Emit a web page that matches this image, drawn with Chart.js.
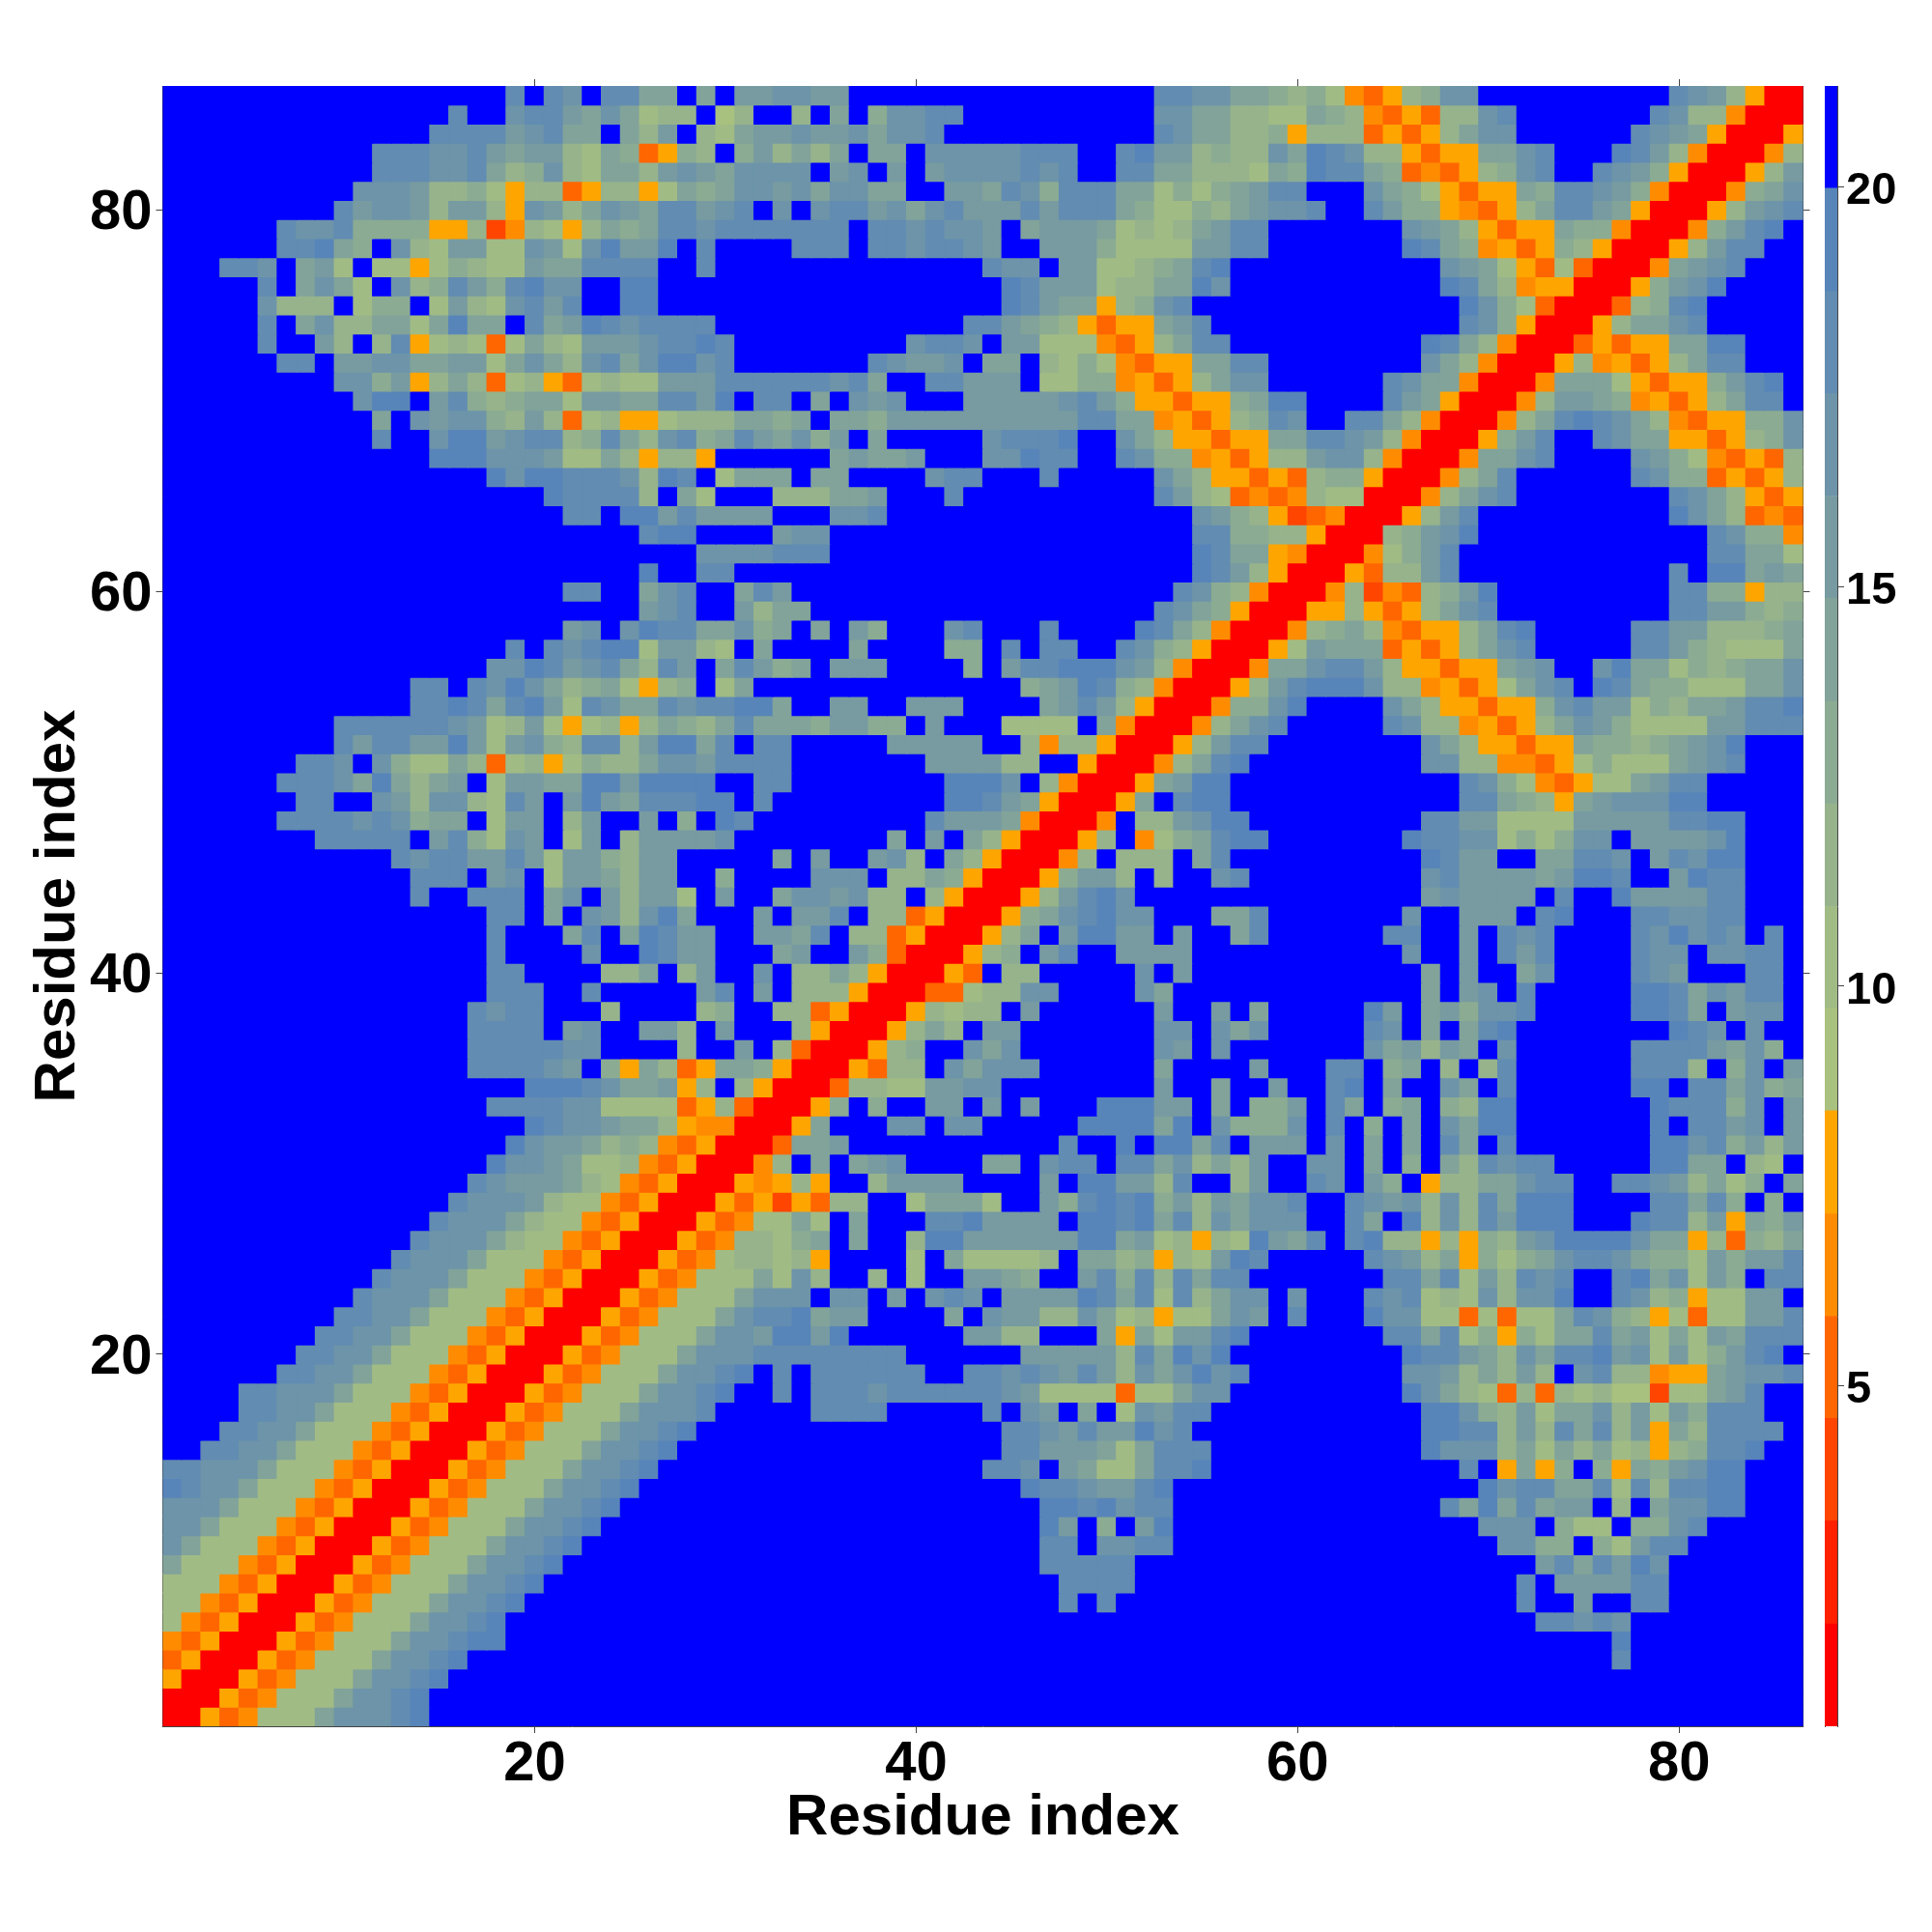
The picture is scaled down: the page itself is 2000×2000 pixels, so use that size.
<!DOCTYPE html>
<html>
<head>
<meta charset="utf-8">
<title>Residue map</title>
<script src="https://cdn.jsdelivr.net/npm/chart.js@4"></script>
<style>
    body { margin: 0; background: #fff; }
    #mapCanvas { position: absolute; left: 0; top: 0; }
    #barCanvas { position: absolute; left: 1880px; top: 0; }
</style>
</head>
<body>
<canvas id="mapCanvas" width="2000" height="2000"></canvas>
<canvas id="barCanvas" width="120" height="2000"></canvas>
<script>
// one letter per cell, level index in hex; first row is residue 86, groups of ten columns
const mapRows = [
'ffffffffff ffffffffdf dcfddaafaf bbccbbffff ffffffffff ffddccaa98 9743589ccf fffffffffd cb8500',
'ffffffffff fffffdffcd dbaca788f6 8ff8faf9cc ddffffffff ffccaa8877 a98435388c dfffffffdc 884000',
'ffffffffff ffffddddbc daafa8bf87 abbcbbcacc dfffffffff ffdcaa8895 88835358ac cffffffdcb a50005',
'ffffffffff fdddccdbab b87a93598f 9b8a8afaaf cccccdddff debb8988ca edc885355a acdfffedb8 400048',
'ffffffffff fdddccda89 c87aa8bcba ccccfbcfbf bccccdcdff ddaa8887a9 edda934358 9cdffdcb95 00058b',
'ffffffffff cccb889758 8358857a9a ccbcaccaaf fbbadc9ddd aa7979abdd fffca97535 5a9ddcb940 0049ac',
'fffffffffd bccb8bb85c b8acbaddbc dfcfcddbca cdbbbdbddd a97798abcc dffdb99543 58addba500 058bcd',
'ffffffdccd 9999558248 758a9addcd ddddddfddc dccbfabbba 7878abddff fffffcba85 355a994000 49bdef',
'ffffffddea 9fc87bb77c b7cebbefdf fffdddfddc ddcbffbbb9 7777bbddff fffffeda94 5359850005 8bddff',
'fffddcfab7 f77579877b aaddddffdf ffffffffff fffdccfbb7 789adeffff fffffffcba 753730004a bcdfff',
'fffffdfaca 7fc89db9de ccffeeffff ffffffffff ffffedbbb7 88aaecffff fffffffeda 845500059b ceffff',
'fffffc888f 799f7b87cd bdffeeffff ffffffffff ffffedbaa5 89cdffffff ffffffffec 973000389d efffff',
'fffffdfac8 8aa7aeaafd abedcddddf ffffffffff ffddba9853 55abdfffff ffffffffdc 9500058aac dfffff',
'fffffdffb8 f8d578737a 87bbbcdded fffffffffc ddcfbb7774 358addffff ffffffeda8 400035355a aeefff',
'ffffffddfb bccaabb7ac a8cdaceecd fffffffdcb bcfaaf8797 4355aaddff ffffffca84 0005845358 addfff',
'fffffffffc c9b58a8378 537877bbbd dddddcdaff ddbbbf7799 45358accff ffffdcaa40 004aaa7535 59bdef',
'ffffffffff ceefbd989a a7bbaaddbe fddfafcbcf ffbbbbbcdb 9553559aee ffffdba500 048bba9453 58addf',
'ffffffffff fafcbcc98b 8378557888 aa9afaa9bb bbbbbbbbdd aa453589dc ffdda84000 48adedca84 35599c',
'ffffffffff fdffceebcd d89da8cd9a dbac9bfaff fffcdddeff ca855355aa ddcb840005 9bdffdcaa5 53589c',
'ffffffffff ffffeeeccc b77a85885f fffffabaab fffcceddff dc99453588 bcc840004a acdffffcb9 743538',
'ffffffffff fffffffece edddc8edf7 aaafaaffff cddfffdfff ffca855353 899500048a dffffffdc9 935358',
'ffffffffff ffffffffff edddd8fa7f ff888aabff fdffffffff ffdb873434 87700048ac dffffffffd ca8535',
'ffffffffff ffffffffff fddfeebdbb bbfffccdff ffffffffff ffffcb9852 3400058bdf fffffffffe ca8343',
'ffffffffff ffffffffff fffffdeeff ffbccfffff ffffffffff ffffdd9988 500089bcef ffffffffff fdc994',
'ffffffffff ffffffffff ffffffffcc ccdddfffff ffffffffff ffffedaa54 000479bdff ffffffffff fddaa7',
'ffffffffff ffffffffff fffffeffdd ffffffffff ffffffffff ffffedb850 005388bdff fffffffffd feeaba',
'ffffffffff ffffffffff fddffacdff adbfffffff ffffffffff fffdc98400 04824389be fffffffffd d99588',
'ffffffffff ffffffffff fffffbcdff b8aaffffff ffffffffff ffdca95000 5585358acd fffffffffd dbb989',
'ffffffffff ffffffffff fbcfceddaa c9afafb9ff fcdfffdfff feda840004 89a843558a defffffddb b8889a',
'ffffffffff ffffffffdf dcdee7bb87 faffffafff f99fdfddff dc98500057 baaa35358a cdfffffddb 98777a',
'ffffffffff fffffffcce dbcda8dbfa db9afbbbff ff9fbddeee cb840004aa cddb855355 abcffceaa7 989aac',
'ffffffffff fffddfdcec a89a7589f7 afffffffff fffff9abed 98400058bd eeec884535 7acdfeda99 777aac',
'ffffffffff fffddedade b7dcaadcdd eeaffbbffb bbffffabdb 85000499ce ffffca8553 559cdbb798 aabdde',
'fffffffffd dddddcb78b 757858a98a daaa9bb99f bfff7777fa 400048acdf ffffdc8845 358acb9777 7bbddd',
'fffffffffd bddbbeb7bc 98dd8beead fddfffffbb bbbff84885 00058bddff ffffffca85 5355a9989a bcefff',
'fffffffddc fc977a8378 57988accbd dddfffffff bbbb88ff50 0048adefff ffffffcc88 443579777a bcdfff',
'ffffffdddc aea8abf7bb aaeebeeeef fddfffffff feeecf8400 05abeeffff ffffffffdc 9743577abd dfffff',
'fffffffddf fcb8cc87db fbebadddee fdffffffff feedba5000 5afdeeffff ffffffffdd a985abccce efffff',
'ffffffdddd cdc9aaf7bb f8bffbf9fe dfffffffff dbbba40004 f88bceefff ffffffddbb 7777bbbbbd deefff',
'ffffffffdd dddfbd97cb f7bf8bbbbc ffffffffaf bfa8500058 f479adeeff fffffeddcc 7979ccfbbb bcefff',
'ffffffffff ffdcddbbdb 7bb98bbfff ffafbffbc8 fa8500048f 888fadffff ffffffedbb ffaaddcfbd ceefff',
'ffffffffff fffdddfbcf 7bba8bbff9 ffffcccf88 a9500059bb 8f8ffcdfff ffffffcdbb bbabeedffb eddfff',
'ffffffffff fffdffdddf acfb8bb7fb ffaccbc88f 8500058bde cfffffffff ffffffbcbb bbfdffebbb bddfff',
'ffffffffff fffffffddf afcb8ceaff fbfbbdf883 500059acde ccfffaadff fffffcffbb bfdefffddc cddfff',
'ffffffffff fffffffdff fadfaedbbf fbbadf8835 00058afbee bbfbffadff ffffddffbf dcdffffdce cdcfdf',
'ffffffffff fffffffdff ffcffedbbf ffabffb930 00589fbdff bbbbffffff fffffcffbf dbdffffdcc fccddf',
'ffffffffff fffffffddf fff88af8bf fcf88a8500 053f88ffff fcfbffffff ffffffafbf facffffdcb fffddf',
'ffffffffff fffffffddd ffdfffffbd fbf8885000 33788ccfff fcafffffff ffffffafbc fdfffffeed acbddf',
'ffffffffff ffffffdcdd fff8ffff89 ff88350005 8788fbffff ffbffbfaff fffebfab9c cdfffffeed afbccf',
'ffffffffff ffffffdddd fbcffbb8fb fff8500058 a8fbbfffff ffccfcacff fffdcfafad effffffffe dcfcff',
'ffffffffff ffffffdddd dccffff8ff bf83000589 ffcacfffff ffcbfcffff fffcab8baf cffffffddd dbac9f',
'ffffffffff ffffffdddd cbf95a835a a950005388 fcacccffff ffaffffbff fddf9af8f8 dffffffddd 8f9cfb',
'ffffffffff fffffffffe eedcaab58f 8500038877 bbccffffff ffbffaffbf fdefaffcaf dffffffeef ddac9a',
'ffffffffff fffffffddd dcc7777358 300059f9ff bbfbfbfffe eebbfaf99b fdaf9af98e efffffffed dd9cfb',
'ffffffffff fffffffffe dccbaa8544 0005afffcc fccfffffee eeaefc999c fdf9fafcae efffffffef ddbcfb',
'ffffffffff ffffffffec bba8984350 003aabffff fffffffdff efeeadfbbb fcfafafdaf dfffffffee cd9b8b',
'ffffffffff fffffffecc ba77843500 048fafabcf fffaafcddf ddac8a8bff ccfaf9fa8d cddfffffee aaf87f',
'ffffffffff ffffffdcbb ba87435000 54585ff8bb bbffffbfee bb8dff8bff dcfb9f588a acddffddcb 8a79fa',
'ffffffffff fffffdcccb 8774350005 3525388ff7 aaa7ffb9de de9b8baccd ffdcbc8c8d aeeeffffdd ad9f9f',
'ffffffffff ffffdccca8 7743500053 477a7fafff ddebbbbfee dead8caccc ffdafe8c8d beeefffedd 8b5a9b',
'ffffffffff fffdccca87 7435000534 8879afaff8 eebbbbbbee ab78587eba dfde885859 8bceeeecaa 58398a',
'ffffffffff ffdccca777 4350005347 88785ffff7 fa77778faa 89587bedff fffdcb8a59 79acddca99 7b9bbd',
'ffffffffff fdccca7774 3500053477 7a7c8ff8f7 ffbba9ffbd 9d8daddfff ffffddad7b 8dcdffdeac 7b9fdd',
'ffffffffff dccca77743 5000534777 acccfccfbf cdcfbbbbed ad7d8accfc fffdcd787c 8cceffdc89 577bbf',
'fffffffffd dcca777435 000534777a cddeabbfff fafcbb88ca 78577acbfd fffecc7737 377adc9857 377bbd',
'ffffffffdd cca7774350 00534777ac cbeebeffff ffbb88fffa 5a7bbdefff ffffddad79 597aadab7a 7baddd',
'fffffffddc ca77743500 0534777acc cddddddddf fffffbbbbb 8daeceffff fffffeddba 8caddebc7b 79bdef',
'ffffffddcc a777435000 534777accd efdfdddddd ffddcdcbdb 8cacecdfff fffffccb8a 8b8fcd8845 5abccd',
'ffffddccca 7774350005 34777accde ffdfdddcdd ddddcb7777 377accffff fffffeca87 3838786627 7abdff',
'ffffddcca7 7743500053 4777acccdf ffffddddff fffdfcbfaf 7cbddfffff ffffffeec9 8b7aac8b7b 9dddff',
'fffddcca77 7435000534 777accdeff ffffffffff ffffddcbdb becdffffff ffffffeedd 8b8dad8b5a 8ddddf',
'ffddcca777 4350005347 77accdefff ffffffffff ffffddbbba 7adddfffff ffffffeccc 8a7a8a7858 9ddeff',
'ddccca7774 3500053477 7accdeffff ffffffffff fffddcfba7 7addefffff ffffffffdf 5a59f95a9b ceefff',
'edcca77743 5000534777 accdefffff ffffffffff fffffeddcb bdefffffff fffffffffe cddaad7d8d deefff',
'ccca777435 000534777a ccdeffffff ffffffffff ffffffeede cddfffffff fffffffdae adabbf8fac ceefff',
'cca7774350 00534777ac cdefffffff ffffffffff ffffffebf9 fbefffffff fffffffffc ccf977f99c dfffff',
'ca77743500 0534777acc deffffffff ffffffffff ffffffddfc cddfffffff ffffffffff cc99f97bdd ffffff',
'a777435000 534777accd efffffffff ffffffffff ffffffdddd dfffffffff ffffffffff ffbdadbecf ffffff',
'7774350005 34777accde ffffffffff ffffffffff fffffffddd dfffffffff ffffffffff fdfbbbbddf ffffff',
'7743500053 4777accdef ffffffffff ffffffffff fffffffdfd ffffffffff ffffffffff fdffbffddf ffffff',
'7435000534 777accdeff ffffffffff ffffffffff ffffffffff ffffffffff ffffffffff ffddcdcfff ffffff',
'4350005347 77accdeeff ffffffffff ffffffffff ffffffffff ffffffffff ffffffffff ffffffefff ffffff',
'3500053477 7accdeffff ffffffffff ffffffffff ffffffffff ffffffffff ffffffffff ffffffdfff ffffff',
'5000534777 accdefffff ffffffffff ffffffffff ffffffffff ffffffffff ffffffffff ffffffffff ffffff',
'000534777a ccdeffffff ffffffffff ffffffffff ffffffffff ffffffffff ffffffffff ffffffffff ffffff',
'00534777ac ccdeffffff ffffffffff ffffffffff ffffffffff ffffffffff ffffffffff ffffffffff ffffff'
];
const levelColors = ['#ff0000', '#ff2000', '#ff4500', '#ff6600', '#ff8c00', '#ffa500',
    '#a9c17f', '#a1bb85', '#96b38c', '#8bab93', '#81a39a', '#779ba1', '#6d94a9', '#628cb1', '#5885b9', '#0000ff'];
const levelEdges = [0.74, 2.02, 3.31, 4.59, 5.87, 7.15, 8.44, 9.72, 11, 12.28, 13.56, 14.85, 16.13, 17.41, 18.69, 19.98, 21.26];
const mapTicks = [20, 40, 60, 80];
const barTicks = [5, 10, 15, 20];
const axisTitle = 'Residue index';

const fontName = '"Liberation Sans", Arial, sans-serif';
const tickLine = '#444444';

function fixedTicks(values) {
    return axis => { axis.ticks = values.map(v => ({ value: v })); };
}

// one bar dataset per row of the map, each cell a floating bar one residue tall
const mapDatasets = mapRows.map((row, r) => {
    let cells = row.replace(/ /g, '').split('');
    let residue = mapRows.length - r;
    return {
        data: cells.map((c, i) => ({ x: i + 1, y: [residue - 0.5, residue + 0.5] })),
        backgroundColor: cells.map(c => levelColors[parseInt(c, 16)]),
        borderWidth: 0,
        inflateAmount: 0.6, // hides the seams between neighbouring cells
        grouped: false,
        barPercentage: 1,
        categoryPercentage: 1
    };
});

function mapAxis(position, size, showLabels, pad, extra) {
    return Object.assign({
        type: 'linear',
        position: position,
        min: 0.5,
        max: 86.5,
        offset: false,
        afterBuildTicks: fixedTicks(mapTicks),
        afterFit: axis => {
            if (axis.isHorizontal()) axis.height = size;
            else axis.width = size;
        },
        border: { display: true, color: tickLine, width: 1 },
        grid: { offset: false, drawOnChartArea: false, drawTicks: true, tickLength: 7, color: tickLine, lineWidth: 1 },
        ticks: {
            display: showLabels,
            autoSkip: false,
            maxRotation: 0,
            minRotation: 0,
            color: '#000000',
            padding: pad,
            font: { family: fontName, size: 58, weight: 'bold' }
        }
    }, extra || {});
}

let yAxis = mapAxis('left', 168.5, true, 4, {
    title: { display: true, text: axisTitle, color: '#000000', padding: { top: 24, bottom: 24 },
        font: { family: fontName, size: 60, weight: 'bold' } }
});
yAxis.ticks.labelOffset = 4;

new Chart(document.getElementById('mapCanvas').getContext('2d'), {
    type: 'bar',
    data: { datasets: mapDatasets },
    options: {
        responsive: false,
        animation: false,
        devicePixelRatio: 1,
        layout: { padding: 0 },
        plugins: { legend: { display: false }, tooltip: { enabled: false } },
        scales: {
            x: mapAxis('bottom', 213, true, -2, {
                title: { display: true, text: axisTitle, color: '#000000', padding: { top: 0, bottom: 82 },
                    font: { family: fontName, size: 60, weight: 'bold' } }
            }),
            y: yAxis,
            xTop: mapAxis('top', 89, false, 0),
            yRight: mapAxis('right', 133.5, false, 0)
        }
    }
});

// colour bar: one floating bar per level
const barDatasets = levelColors.map((color, i) => ({
    data: [[levelEdges[i], levelEdges[i + 1]]],
    backgroundColor: color,
    borderWidth: 0,
    grouped: false,
    barPercentage: 1,
    categoryPercentage: 1
}));

new Chart(document.getElementById('barCanvas').getContext('2d'), {
    type: 'bar',
    data: { labels: [''], datasets: barDatasets },
    options: {
        responsive: false,
        animation: false,
        devicePixelRatio: 1,
        layout: { padding: { left: 9, top: 89, bottom: 213, right: 0 } },
        plugins: { legend: { display: false }, tooltip: { enabled: false } },
        scales: {
            x: { display: false },
            yEdge: {
                type: 'linear', position: 'left', min: 0.74, max: 21.26,
                afterBuildTicks: fixedTicks([]),
                afterFit: axis => { axis.width = 0; },
                border: { display: true, color: tickLine, width: 1 },
                grid: { display: false },
                ticks: { display: false }
            },
            y: {
                type: 'linear',
                position: 'right',
                min: 0.74,
                max: 21.26,
                afterBuildTicks: fixedTicks(barTicks),
                afterFit: axis => { axis.width = 98; },
                border: { display: true, color: tickLine, width: 1 },
                grid: { drawOnChartArea: false, drawTicks: true, tickLength: 7, color: tickLine, lineWidth: 1 },
                ticks: {
                    color: '#000000',
                    padding: 2,
                    labelOffset: 5,
                    font: { family: fontName, size: 47, weight: 'bold' }
                }
            }
        }
    }
});
</script>
</body>
</html>
